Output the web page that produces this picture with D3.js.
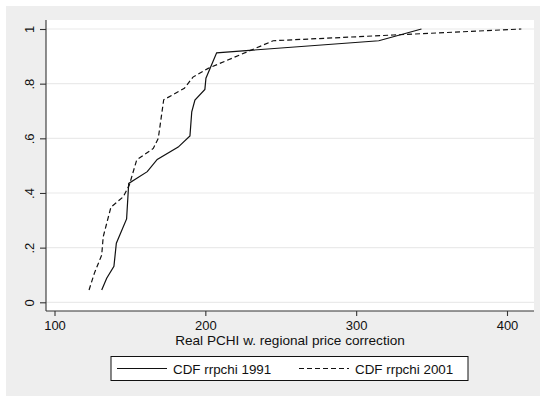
<!DOCTYPE html>
<html>
<head>
<meta charset="utf-8">
<script src="https://cdn.jsdelivr.net/npm/d3@7"></script>
<style>
body { margin: 0; background: #fff; }
svg { display: block; font-family: "Liberation Sans", Arial, Helvetica, sans-serif; }
</style>
</head>
<body>
<svg id="chart" width="540" height="396"></svg>
<script>
// CDF of real PCHI (regional price correction)
var pchi1991 = [131.3, 134.6, 139.4, 141.0, 147.8, 149.2, 161.5, 168.1, 182.0, 189.8, 191.0, 193.1, 199.7, 200.4, 207.5, 315.0, 343.3];
var cdf1991  = [0.045, 0.088, 0.132, 0.216, 0.305, 0.435, 0.478, 0.523, 0.568, 0.609, 0.697, 0.740, 0.779, 0.820, 0.913, 0.957, 1.0];

var pchi2001 = [122.9, 126.4, 131.3, 132.3, 137.4, 145.6, 149.6, 154.5, 165.5, 168.8, 172.4, 186.1, 191.8, 201.9, 245.0, 324.5, 409.5];
var cdf2001  = [0.045, 0.106, 0.173, 0.240, 0.348, 0.386, 0.429, 0.521, 0.563, 0.600, 0.741, 0.783, 0.824, 0.856, 0.957, 0.978, 1.0];

var xTicks = [100, 200, 300, 400];
var yTicks = [0, 0.2, 0.4, 0.6, 0.8, 1];
var yTickLabels = ["0", ".2", ".4", ".6", ".8", "1"];
var seriesNames = ["CDF rrpchi 1991", "CDF rrpchi 2001"];

var PLOT_LEFT = 46, PLOT_RIGHT = 534, PLOT_TOP = 20, PLOT_BOTTOM = 311;

var svg = d3.select("#chart");

// outer grey background
svg.append("rect")
    .attr("x", 6).attr("y", 6)
    .attr("width", 534).attr("height", 390)
    .style("fill", "#eeeeee");

// plot region
svg.append("rect")
    .attr("x", PLOT_LEFT).attr("y", PLOT_TOP)
    .attr("width", PLOT_RIGHT - PLOT_LEFT).attr("height", PLOT_BOTTOM - PLOT_TOP)
    .style("fill", "#ffffff");

var x = d3.scaleLinear().domain([100, 400]).range([54.5, 507]);
var y = d3.scaleLinear().domain([0, 1]).range([302.3, 29]);

// gridlines
svg.append("g").selectAll("line")
    .data(yTicks)
    .enter().append("line")
    .attr("x1", PLOT_LEFT).attr("x2", PLOT_RIGHT)
    .attr("y1", function(d){ return y(d); })
    .attr("y2", function(d){ return y(d); })
    .style("stroke", "#eaeaea")
    .style("stroke-width", 1.2);

// x axis
var xAxis = svg.append("g")
    .attr("transform", "translate(0," + PLOT_BOTTOM + ")")
    .call(d3.axisBottom(x).tickValues(xTicks).tickSize(5).tickPadding(5).tickSizeOuter(0));
xAxis.select(".domain").attr("d", "M" + PLOT_LEFT + ",0H" + PLOT_RIGHT);

// y axis
var yAxis = svg.append("g")
    .attr("transform", "translate(" + PLOT_LEFT + ",0)")
    .call(d3.axisLeft(y).tickValues(yTicks).tickSize(6)
        .tickFormat(function(d, i){ return yTickLabels[i]; }).tickSizeOuter(0));
yAxis.select(".domain").attr("d", "M0," + PLOT_TOP + "V" + PLOT_BOTTOM);
yAxis.selectAll(".tick text")
    .attr("x", 0).attr("dy", null)
    .attr("text-anchor", "middle")
    .attr("transform", "translate(-12,0) rotate(-90)");

svg.selectAll(".domain, .tick line").style("stroke", "#333").style("stroke-width", 1.1);
svg.selectAll(".tick text").style("font-size", "13px").style("fill", "#111")
    .style("font-family", "\"Liberation Sans\", Arial, sans-serif");

// axis title
svg.append("text")
    .attr("x", (PLOT_LEFT + PLOT_RIGHT) / 2).attr("y", 345)
    .attr("text-anchor", "middle")
    .style("font-size", "13.6px").style("fill", "#111")
    .text("Real PCHI w. regional price correction");

// CDF lines
var line = d3.line()
    .x(function(d){ return x(d[0]); })
    .y(function(d){ return y(d[1]); });

var series = [
    {name: seriesNames[0], values: d3.zip(pchi1991, cdf1991), dash: null},
    {name: seriesNames[1], values: d3.zip(pchi2001, cdf2001), dash: "5,3"}
];

series.forEach(function(s){
    svg.append("path")
        .datum(s.values)
        .attr("d", line)
        .style("fill", "none")
        .style("stroke", "#111")
        .style("stroke-width", 1.2)
        .style("stroke-dasharray", s.dash);
});

// legend
var legend = svg.append("g");
legend.append("rect")
    .attr("x", 111).attr("y", 356.5)
    .attr("width", 357).attr("height", 24)
    .style("fill", "#fff").style("stroke", "#111").style("stroke-width", 1);

var legendX = [117, 299];
series.forEach(function(s, i){
    legend.append("line")
        .attr("x1", legendX[i]).attr("x2", legendX[i] + 50)
        .attr("y1", 368.5).attr("y2", 368.5)
        .style("stroke", "#111").style("stroke-width", 1.2)
        .style("stroke-dasharray", s.dash);
    legend.append("text")
        .attr("x", legendX[i] + 56).attr("y", 373.5)
        .style("font-size", "13.4px").style("fill", "#111")
        .text(s.name);
});
</script>
</body>
</html>
